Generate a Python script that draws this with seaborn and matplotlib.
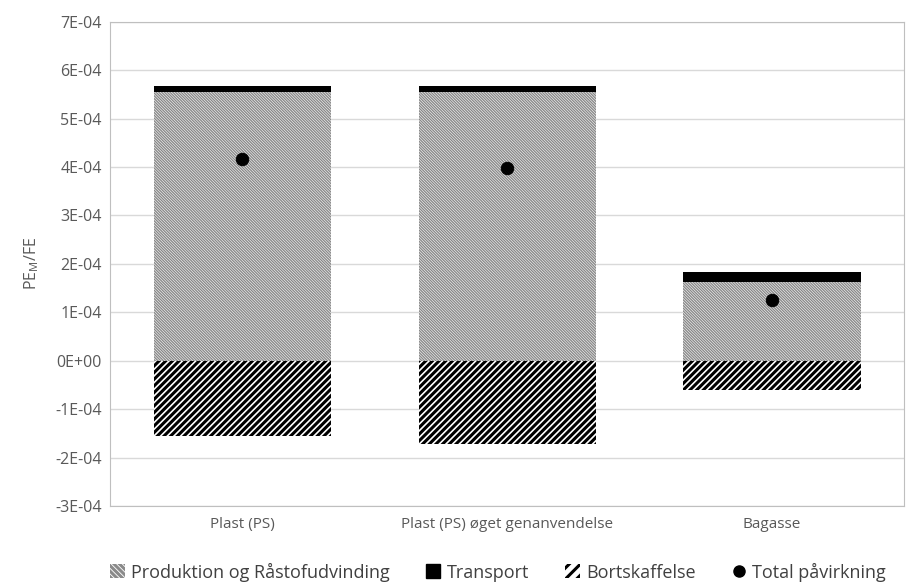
import matplotlib
matplotlib.use("Agg")
import matplotlib.pyplot as plt
import seaborn as sns
import pandas as pd
import numpy as np
from matplotlib.patches import Patch
from matplotlib.lines import Line2D
from matplotlib.ticker import FuncFormatter, MultipleLocator

categories = ["Plast (PS)", "Plast (PS) øget genanvendelse", "Bagasse"]
produktion = [5.54e-4, 5.54e-4, 1.63e-4]
transport = [1.4e-5, 1.4e-5, 2.1e-5]
bortskaffelse = [-1.55e-4, -1.71e-4, -0.60e-4]
total = [4.17e-4, 3.97e-4, 1.26e-4]

sns.set_theme(style="white")
plt.rcParams['font.family'] = ['Open Sans', 'DejaVu Sans']

df = pd.DataFrame({"cat": categories, "prod": produktion, "trans": transport,
                   "bort": bortskaffelse, "total": total})

fig = plt.figure(figsize=(9.09, 5.85), dpi=100)
ax = fig.add_axes([0.121, 0.135, 0.874, 0.828])

PROD_HATCH = "\\\\\\\\\\\\\\\\\\\\\\\\"
BORT_HATCH = "/////"
PROD_LW = 1.0
BORT_LW = 2.2


def set_hlw(p, lw):
    if hasattr(p, "set_hatch_linewidth"):
        p.set_hatch_linewidth(lw)
    else:
        p._hatch_linewidth = lw


plt.rcParams['hatch.linewidth'] = PROD_LW
sns.barplot(data=df, x="cat", y="prod", ax=ax, color="white", width=0.67,
            linewidth=0, zorder=2)
n1 = len(ax.patches)
sns.barplot(data=df, x="cat", y="trans", ax=ax, color="black", width=0.67,
            bottom=df["prod"].values, linewidth=0, zorder=2)
n2 = len(ax.patches)
plt.rcParams['hatch.linewidth'] = BORT_LW
sns.barplot(data=df, x="cat", y="bort", ax=ax, color="white", width=0.67,
            linewidth=0, zorder=2)
for i, p in enumerate(ax.patches):
    if i < n1:
        p.set_hatch(PROD_HATCH)
        p.set_edgecolor("#8a8a8a")
        p.set_linewidth(0)
        set_hlw(p, PROD_LW)
    elif i >= n2:
        p.set_hatch(BORT_HATCH)
        p.set_edgecolor("black")
        p.set_linewidth(0)
        set_hlw(p, BORT_LW)
sns.scatterplot(x=np.arange(len(categories)), y=df["total"].values, ax=ax, s=80,
                color="black", edgecolor="black", zorder=4, legend=False)

ax.set_ylim(-3e-4, 7e-4)
ax.yaxis.set_major_locator(MultipleLocator(1e-4))


def fmt(v, pos):
    if abs(v) < 1e-12:
        return "0E+00"
    return f"{v:.0E}"


ax.yaxis.set_major_formatter(FuncFormatter(fmt))
ax.grid(axis="y", color="#d9d9d9", linewidth=1, zorder=0)
ax.set_axisbelow(True)
for s in ax.spines.values():
    s.set_visible(True)
    s.set_color("#bfbfbf")
    s.set_linewidth(0.8)
ax.tick_params(axis="y", colors="#595959", labelsize=11.5, length=0, pad=6)
ax.tick_params(axis="x", colors="#595959", labelsize=11, length=0, pad=8)
ax.set_xlabel("")
ax.set_ylabel(r"PE$_\mathregular{M}$/FE", color="#595959", fontsize=11.5, labelpad=10)
ax.set_xlim(-0.5, 2.5)

plt.rcParams['hatch.linewidth'] = PROD_LW
h1 = Patch(facecolor="white", edgecolor="#8a8a8a", hatch="\\\\\\\\\\\\", linewidth=0,
           label="Produktion og Råstofudvinding")
h2 = Patch(facecolor="black", edgecolor="black", label="Transport")
plt.rcParams['hatch.linewidth'] = BORT_LW
h3 = Patch(facecolor="white", edgecolor="black", hatch="///", linewidth=0, label="Bortskaffelse")
set_hlw(h1, PROD_LW)
set_hlw(h3, BORT_LW)
h4 = Line2D([], [], marker="o", color="black", linestyle="none", markersize=8,
            label="Total påvirkning")
leg = fig.legend(handles=[h1, h2, h3, h4], loc="lower center", ncol=4, frameon=False,
                 bbox_to_anchor=(0.548, -0.022), fontsize=13, handlelength=0.8,
                 handleheight=0.8, handletextpad=0.35, columnspacing=2.0)
for t in leg.get_texts():
    t.set_color("#404040")

fig.savefig("out.png", dpi=100)
